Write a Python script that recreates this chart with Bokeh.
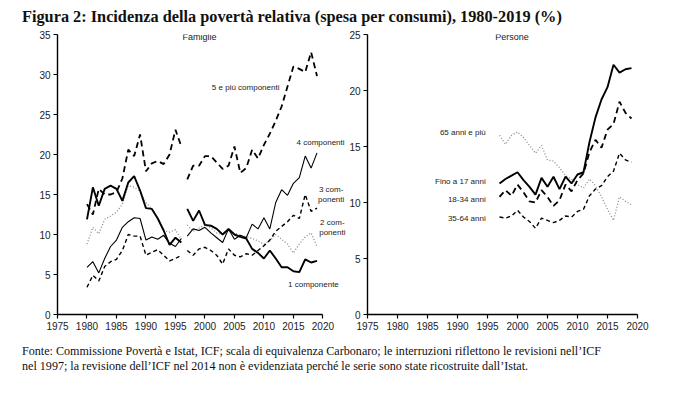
from bokeh.plotting import figure
from bokeh.models import Label, FixedTicker, Div, Range1d
from bokeh.layouts import column, row
from bokeh.embed import file_html
from bokeh.resources import INLINE

# ---------------- data ----------------
years_a = list(range(1980, 1997))
years_b = list(range(1997, 2020))

# Famiglie (left panel)
one_a = [11.9, 15.9, 13.6, 15.7, 16.1, 15.7, 14.2, 16.5, 17.3, 15.5, 13.3, 13.2, 12.0, 10.5, 8.7, 9.6, 9.0]
one_b = [13.2, 11.7, 13.0, 11.2, 11.1, 10.7, 10.0, 10.7, 10.0, 9.7, 9.5, 8.2, 7.7, 7.0, 8.0, 7.0, 5.9, 5.9, 5.4, 5.3, 6.9, 6.5, 6.7]
two_a = [8.8, 10.9, 10.1, 11.9, 12.3, 12.8, 13.8, 16.1, 15.9, 15.4, 14.0, 13.2, 12.0, 10.5, 10.3, 10.6, 9.4]
two_b = [11.2, 10.4, 10.8, 11.2, 10.8, 10.2, 10.0, 10.4, 10.2, 9.9, 9.7, 9.5, 9.2, 8.8, 9.2, 10.0, 9.4, 8.8, 7.7, 8.8, 9.7, 10.2, 8.5]
three_a = [3.4, 4.9, 4.2, 6.0, 6.6, 6.9, 8.0, 10.0, 9.8, 9.8, 7.4, 7.8, 8.1, 7.4, 6.7, 7.0, 7.4]
three_b = [8.0, 7.4, 8.2, 8.4, 8.0, 7.4, 6.3, 8.2, 7.4, 7.2, 7.6, 7.4, 8.0, 8.6, 9.3, 10.4, 11.0, 11.6, 12.4, 12.0, 15.0, 12.9, 13.3]
four_a = [5.9, 6.6, 5.2, 7.0, 8.5, 9.3, 10.9, 11.6, 12.1, 12.0, 9.3, 9.7, 9.4, 9.9, 8.9, 8.5, 9.5]
four_b = [9.8, 10.7, 10.5, 10.9, 10.2, 9.6, 9.0, 10.7, 9.4, 9.9, 9.6, 11.3, 10.7, 12.1, 10.7, 14.0, 15.6, 14.9, 16.4, 17.1, 19.8, 18.3, 20.2]
five_a = [13.8, 12.5, 15.7, 15.0, 15.0, 15.3, 17.0, 20.6, 19.8, 22.5, 17.9, 18.9, 19.2, 18.8, 20.0, 23.1, 21.0]
five_b = [16.9, 18.6, 18.6, 19.8, 19.8, 19.0, 18.2, 18.6, 21.0, 17.7, 18.3, 20.6, 19.5, 21.2, 22.6, 24.2, 26.0, 28.5, 31.0, 30.7, 30.3, 32.8, 29.8]

# Persone (right panel)
fino17 = [11.7, 12.1, 12.4, 12.7, 12.0, 11.4, 10.7, 12.2, 11.4, 12.3, 11.2, 12.3, 11.7, 12.5, 12.7, 15.4, 17.6, 19.2, 20.3, 22.3, 21.6, 21.9, 22.0]
a18_34 = [10.5, 11.1, 10.6, 11.6, 10.9, 10.1, 10.0, 11.1, 10.5, 9.7, 10.2, 11.6, 11.0, 12.0, 12.6, 14.5, 15.6, 14.9, 16.5, 17.0, 19.0, 18.0, 17.5]
a35_64 = [8.7, 8.6, 8.8, 9.3, 8.7, 8.3, 7.7, 8.6, 8.4, 8.2, 8.4, 8.8, 8.7, 9.2, 9.4, 10.6, 11.2, 11.5, 12.3, 12.8, 14.4, 13.8, 13.6]
over65 = [16.0, 15.2, 16.0, 16.3, 15.8, 15.1, 14.4, 15.1, 13.8, 13.7, 13.1, 12.4, 12.1, 11.6, 11.3, 12.1, 11.5, 10.5, 9.4, 8.4, 10.5, 10.1, 9.8]

x_ticks = list(range(1975, 2021, 5))
left_ticks = list(range(0, 36, 5))
right_ticks = list(range(0, 26, 5))

TITLE = "Figura 2: Incidenza della povertà relativa (spesa per consumi), 1980-2019 (%)"
NOTE1 = "Fonte: Commissione Povertà e Istat, ICF; scala di equivalenza Carbonaro; le interruzioni riflettono le revisioni nell’ICF"
NOTE2 = "nel 1997; la revisione dell’ICF nel 2014 non è evidenziata perché le serie sono state ricostruite dall’Istat."

SANS = "Liberation Sans"
SERIF = "Liberation Serif"
GRAY = "#8a8a8a"


def make_fig(ymax, yticks, xmax, fw, bl, br):
    p = figure(frame_width=fw, frame_height=280,
               x_range=Range1d(1975, xmax), y_range=Range1d(0, ymax),
               output_backend="svg", toolbar_location=None,
               min_border_left=bl, min_border_right=br,
               min_border_top=7, min_border_bottom=22)
    p.xaxis.ticker = FixedTicker(ticks=x_ticks)
    p.xaxis.bounds = (1975, 2020)
    p.yaxis.ticker = FixedTicker(ticks=yticks)
    p.grid.visible = False
    p.outline_line_color = None
    p.background_fill_color = "white"
    p.border_fill_color = "white"
    for ax in (p.xaxis[0], p.yaxis[0]):
        ax.axis_line_color = "black"
        ax.axis_line_width = 1.4
        ax.major_tick_line_color = "black"
        ax.major_tick_line_width = 1.2
        ax.major_tick_in = 0
        ax.major_tick_out = 4
        ax.minor_tick_line_color = None
        ax.major_label_text_font = SANS
        ax.major_label_text_font_size = "10px"
        ax.major_label_text_color = "#222222"
        ax.major_label_standoff = 3
    return p


def add_label(p, x, y, text, align="center", size="8px"):
    p.add_layout(Label(x=x, y=y, text=text, text_font=SANS, text_font_size=size,
                       text_align=align, text_baseline="middle", text_color="#222222"))


# ---------------- left: Famiglie ----------------
p1 = make_fig(35, left_ticks, 2024, 289, 47, 0)
p1.line(years_a, five_a, line_color="black", line_width=1.8, line_dash="6 4")
p1.line(years_b, five_b, line_color="black", line_width=1.8, line_dash="6 4")
p1.line(years_a, two_a, line_color=GRAY, line_width=1.3, line_dash="1 2")
p1.line(years_b, two_b, line_color=GRAY, line_width=1.3, line_dash="1 2")
p1.line(years_a, four_a, line_color="black", line_width=1.1)
p1.line(years_b, four_b, line_color="black", line_width=1.1)
p1.line(years_a, three_a, line_color="black", line_width=1.4, line_dash="4 3")
p1.line(years_b, three_b, line_color="black", line_width=1.4, line_dash="4 3")
p1.line(years_a, one_a, line_color="black", line_width=1.9)
p1.line(years_b, one_b, line_color="black", line_width=1.9)

add_label(p1, 1996.2, 34.7, "Famiglie", align="left", size="9px")
add_label(p1, 2006.9, 28.4, "5 e più componenti")
add_label(p1, 2019.6, 21.5, "4 componenti")
add_label(p1, 2021.4, 15.6, "3 com-")
add_label(p1, 2021.4, 14.4, "ponenti")
add_label(p1, 2021.6, 11.5, "2 com-")
add_label(p1, 2021.6, 10.25, "ponenti")
add_label(p1, 2018.4, 3.75, "1 componente")

# ---------------- right: Persone ----------------
p2 = make_fig(25, right_ticks, 2020, 270, 21, 20)
p2.line(years_b, over65, line_color=GRAY, line_width=1.3, line_dash="1 2")
p2.line(years_b, a35_64, line_color="black", line_width=1.4, line_dash="4 3")
p2.line(years_b, a18_34, line_color="black", line_width=1.8, line_dash="6 4")
p2.line(years_b, fino17, line_color="black", line_width=1.9)

add_label(p2, 1996.3, 24.8, "Persone", align="left", size="9px")
add_label(p2, 1994.7, 16.25, "65 anni e più", align="right")
add_label(p2, 1994.7, 11.9, "Fino a 17 anni", align="right")
add_label(p2, 1994.7, 10.3, "18-34 anni", align="right")
add_label(p2, 1994.7, 8.6, "35-64 anni", align="right")

# ---------------- title / footnote ----------------
title = Div(text=TITLE, width=680, height=20, margin=(0, 0, 0, 0),
            styles={"font-family": SERIF, "font-weight": "bold", "font-size": "16.3px",
                    "line-height": "20px", "padding-left": "12px", "color": "#111111",
                    "white-space": "nowrap"})
note = Div(text=NOTE1 + "<br>" + NOTE2, width=680, height=44, margin=(0, 0, 0, 0),
           styles={"font-family": SERIF, "font-size": "12.1px", "line-height": "15px",
                   "padding-left": "12px", "padding-top": "8px", "color": "#111111",
                   "white-space": "nowrap"})

layout = column(title, row(p1, p2, spacing=0), note, spacing=0, margin=(7, 0, 0, 10))
open("out.html", "w").write(file_html(layout, INLINE))
